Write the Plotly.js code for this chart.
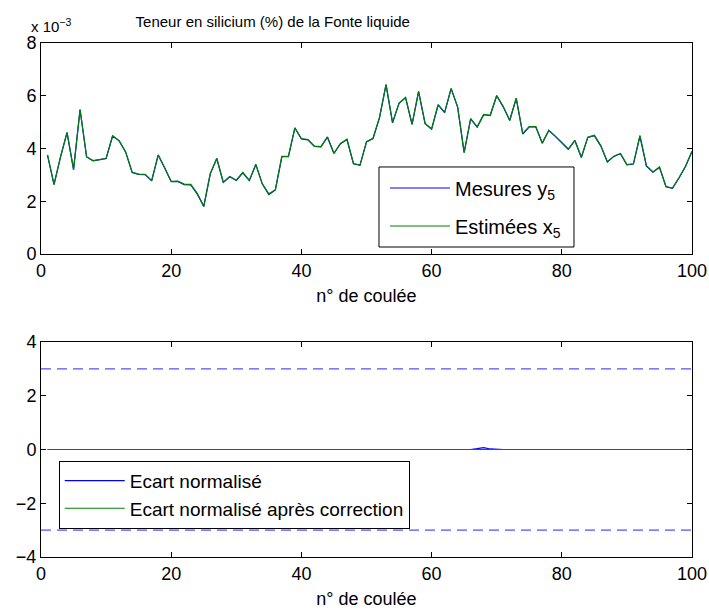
<!DOCTYPE html>
<html>
<head>
<meta charset="utf-8">
<script src="https://cdn.plot.ly/plotly-3.0.1.min.js"></script>
<style>
html,body{margin:0;padding:0;background:#fff;}
#chart{width:709px;height:610px;}
</style>
</head>
<body>
<div id="chart"></div>
<script>
// n° de coulée
const coulee = [1,2,3,4,5,6,7,8,9,10,11,12,13,14,15,16,17,18,19,20,21,22,23,24,25,26,27,28,29,30,31,32,33,34,35,36,37,38,39,40,41,42,43,44,45,46,47,48,49,50,51,52,53,54,55,56,57,58,59,60,61,62,63,64,65,66,67,68,69,70,71,72,73,74,75,76,77,78,79,80,81,82,83,84,85,86,87,88,89,90,91,92,93,94,95,96,97,98,99,100];

// Teneur en silicium (x 10^-3)
const mesuresY5 = [3.75,2.63,3.68,4.60,3.20,5.48,3.68,3.53,3.58,3.62,4.47,4.29,3.87,3.09,3.02,3.01,2.77,3.75,3.26,2.74,2.75,2.63,2.62,2.28,1.80,3.04,3.62,2.71,2.93,2.79,3.08,2.78,3.39,2.65,2.25,2.43,3.69,3.69,4.78,4.36,4.33,4.08,4.06,4.43,3.81,4.18,4.34,3.42,3.36,4.25,4.38,5.17,6.42,4.97,5.71,5.93,4.91,6.16,4.94,4.73,5.65,5.36,6.27,5.57,3.84,5.12,4.81,5.28,5.25,6.00,5.58,5.06,5.90,4.55,4.82,4.82,4.20,4.68,4.46,4.22,3.97,4.30,3.66,4.42,4.49,4.09,3.49,3.70,3.80,3.38,3.41,4.46,3.33,3.10,3.29,2.55,2.49,2.88,3.32,3.89];
const estimeesX5 = [3.76,2.64,3.68,4.61,3.21,5.48,3.69,3.54,3.58,3.62,4.48,4.30,3.87,3.10,3.03,3.02,2.78,3.76,3.27,2.75,2.76,2.65,2.64,2.30,1.81,3.05,3.62,2.72,2.94,2.80,3.09,2.79,3.40,2.66,2.28,2.44,3.70,3.70,4.78,4.38,4.34,4.09,4.07,4.44,3.82,4.19,4.35,3.43,3.37,4.26,4.39,5.18,6.42,4.99,5.72,5.93,4.92,6.17,4.95,4.74,5.66,5.37,6.28,5.58,3.85,5.13,4.82,5.29,5.26,6.01,5.59,5.07,5.91,4.57,4.83,4.83,4.21,4.69,4.47,4.23,3.98,4.31,3.68,4.43,4.50,4.10,3.50,3.71,3.81,3.39,3.42,4.50,3.35,3.11,3.30,2.56,2.50,2.89,3.33,3.90];

// Ecarts normalisés
const ecartNorm = [0,0,0,0,0,0,0,0,0,0,0,0,0,0,0,0,0,0,0,0,0,0,0.01,0.01,0.02,0.01,0.01,0.02,0.01,0.01,0.02,0.01,0.01,0,0.01,0,0,0,0,0,0,0,0,0,0,0,0,0,0,0,0,0,0,0,0,0,0,0,0,0,0,0,0,0,0,0,0.03,0.07,0.02,0,0,0,0,0,0,0,0,0,0,0,0,0,0,0,0,0,0,0,0,0,0,0,0,0,0,0,0,0,0,0];
const ecartCorr = [0,0,0,0,0,0,0,0,0,0,0,0,0,0,0,0,0,0,0,0,0,0,0,0,0,0,0,0,0,0,0,0,0,0,0,0,0,0,0,0,0,0,0,0,0,0,0,0,0,0,0,0,0,0,0,0,0,0,0,0,0,0,0,0,0,0,0,0,0,0,0,0,0,0,0,0,0,0,0,0,0,0,0,0,0,0,0,0,0,0,0,0,0,0,0,0,0,0,0,0];

// Seuils
const seuilX = [0, 100];
const seuilHaut = [3, 3];
const seuilBas = [-3, -3];

const xTicks = [0,20,40,60,80,100];
const yTicksTop = [0,2,4,6,8];
const yTicksBot = [-4,-2,0,2,4];

const FONT = 'Liberation Sans, Arial, Helvetica, sans-serif';
const BLUE = 'rgb(0,0,255)';
const GREEN = 'rgb(0,128,0)';

const traces = [
  {x: coulee, y: mesuresY5, type: 'scatter', mode: 'lines', name: 'Mesures y<sub>5</sub>',
   line: {color: BLUE, width: 1.2}, xaxis: 'x', yaxis: 'y', legend: 'legend'},
  {x: coulee, y: estimeesX5, type: 'scatter', mode: 'lines', name: 'Estimées x<sub>5</sub>',
   line: {color: GREEN, width: 1.2}, xaxis: 'x', yaxis: 'y', legend: 'legend3'},
  {x: coulee, y: ecartNorm, type: 'scatter', mode: 'lines', name: 'Ecart normalisé',
   line: {color: BLUE, width: 1.2}, xaxis: 'x2', yaxis: 'y2', legend: 'legend2'},
  {x: coulee, y: ecartCorr, type: 'scatter', mode: 'lines', name: 'Ecart normalisé après correction',
   line: {color: GREEN, width: 1.2}, xaxis: 'x2', yaxis: 'y2', legend: 'legend2'},
  {x: seuilX, y: seuilHaut, type: 'scatter', mode: 'lines', showlegend: false,
   line: {color: 'rgb(80,80,255)', width: 1.2, dash: '10px,6px'}, xaxis: 'x2', yaxis: 'y2'},
  {x: seuilX, y: seuilBas, type: 'scatter', mode: 'lines', showlegend: false,
   line: {color: 'rgb(80,80,255)', width: 1.2, dash: '10px,6px'}, xaxis: 'x2', yaxis: 'y2'}
];

const axisCommon = {
  showgrid: false, zeroline: false, showline: true, linecolor: '#000', linewidth: 1,
  mirror: 'allticks', ticks: 'inside', ticklen: 5, tickwidth: 1, tickcolor: '#000',
  tickfont: {family: FONT, size: 18, color: '#000'}
};

const legendTop = {xanchor: 'left', yanchor: 'middle', xref: 'paper', yref: 'paper',
  bgcolor: 'rgba(0,0,0,0)', borderwidth: 0, font: {family: FONT, size: 20}, itemwidth: 60};

const layout = {
  width: 709, height: 610,
  margin: {l: 41, r: 17, t: 43, b: 53},
  paper_bgcolor: '#fff', plot_bgcolor: '#fff',
  font: {family: FONT, color: '#000'},
  title: {text: 'Teneur en silicium (%) de la Fonte liquide', font: {family: FONT, size: 15, color: '#000'},
          x: 0.356, xref: 'paper', xanchor: 'center', y: 0.965, yref: 'container', yanchor: 'middle'},
  xaxis: Object.assign({}, axisCommon, {domain: [0, 1], anchor: 'y', range: [0, 100], tickvals: xTicks,
          title: {text: 'n° de coulée', font: {family: FONT, size: 18}, standoff: 9}}),
  yaxis: Object.assign({}, axisCommon, {domain: [0.5895, 1], anchor: 'x', range: [0, 8], tickvals: yTicksTop}),
  xaxis2: Object.assign({}, axisCommon, {domain: [0, 1], anchor: 'y2', range: [0, 100], tickvals: xTicks,
          title: {text: 'n° de coulée', font: {family: FONT, size: 18}, standoff: 9}}),
  yaxis2: Object.assign({}, axisCommon, {domain: [0, 0.4183], anchor: 'x2', range: [-4, 4], tickvals: yTicksBot}),
  legend: Object.assign({}, legendTop, {x: 0.5284, y: 0.7179}),
  legend3: Object.assign({}, legendTop, {x: 0.5284, y: 0.644}),
  legend2: {x: 0.0272, y: 0.1874, xanchor: 'left', yanchor: 'top', xref: 'paper', yref: 'paper',
           bgcolor: '#fff', bordercolor: '#000', borderwidth: 1, font: {family: FONT, size: 19},
           itemwidth: 60, tracegroupgap: 0},
  shapes: [
    {type: 'rect', xref: 'paper', yref: 'paper', x0: 0.5192, x1: 0.8187, y0: 0.6031, y1: 0.7588,
     line: {color: '#000', width: 1}, fillcolor: '#fff', layer: 'above'}
  ],
  annotations: [
    {text: 'x 10<sup>−3</sup>', xref: 'paper', yref: 'paper', x: -0.018, y: 1.012, xanchor: 'left', yanchor: 'bottom',
     showarrow: false, font: {family: FONT, size: 15, color: '#000'}}
  ],
  showlegend: true
};

Plotly.newPlot('chart', traces, layout, {displayModeBar: false, staticPlot: true});
</script>
</body>
</html>
